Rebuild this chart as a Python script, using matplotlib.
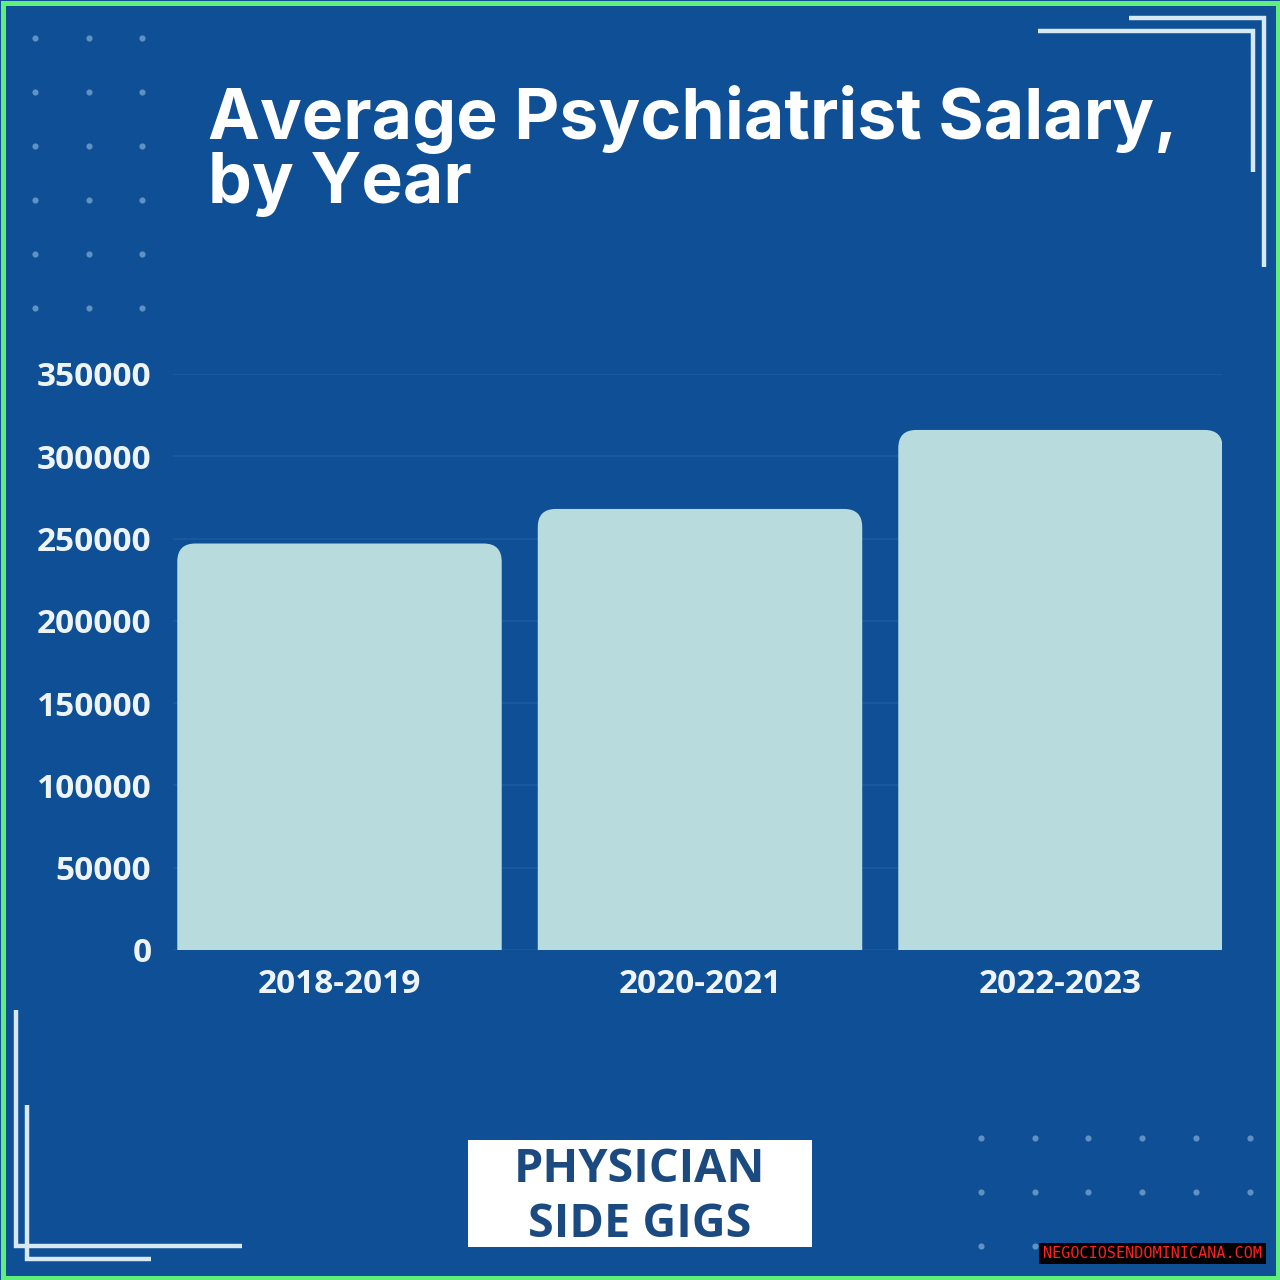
import matplotlib
matplotlib.use('Agg')
import matplotlib.pyplot as plt
from matplotlib.patches import FancyBboxPatch, Rectangle

categories = ['2018-2019', '2020-2021', '2022-2023']
salaries = [247000, 268000, 316000]
y_ticks = [0, 50000, 100000, 150000, 200000, 250000, 300000, 350000]
title_text = 'Average Psychiatrist Salary,\nby Year'
logo_text = 'PHYSICIAN\nSIDE GIGS'
watermark = 'NEGOCIOSENDOMINICANA.COM'
# decorative dot grids (figure pixels)
dots_tl_x = [35, 89, 142]
dots_tl_y = [38, 92, 146, 200, 254, 308]
dots_br_x = [981, 1035, 1088, 1142, 1196, 1250]
dots_br_y = [1138, 1192, 1246]

BG = '#0e4f95'
BAR = '#b8dcdd'
W = 1280
fig = plt.figure(figsize=(12.8, 12.8), dpi=100, facecolor=BG)
page = fig.add_axes([0, 0, 1, 1])
page.set_xlim(0, W); page.set_ylim(W, 0); page.axis('off')

page.add_patch(Rectangle((2.5, 2.5), W-5, W-5, fill=False, ec='#5ff07a', lw=3.6, zorder=10))

page.scatter([x for x in dots_tl_x for _ in dots_tl_y], [y for _ in dots_tl_x for y in dots_tl_y],
             s=20, color='#5f92c2', lw=0)
page.scatter([x for x in dots_br_x for _ in dots_br_y], [y for _ in dots_br_x for y in dots_br_y],
             s=20, color='#5f92c2', lw=0)

lc = '#d8e9f6'
for xs, ys in [([1038, 1253, 1253], [31, 31, 172]),
               ([1129, 1264, 1264], [18, 18, 267]),
               ([16, 16, 242], [1010, 1246, 1246]),
               ([27, 27, 151], [1105, 1259, 1259])]:
    page.plot(xs, ys, color=lc, lw=3.2, solid_joinstyle='miter', solid_capstyle='butt')

page.text(208, 151, title_text, color='white', fontsize=50.2, fontweight='bold',
          family='Inter', va='center', ha='left', linespacing=0.96)

page.add_patch(Rectangle((468, 1140), 344, 107, color='white', lw=0))
page.text(640, 1197, logo_text, color='#1a4a80', fontsize=33.7, fontweight='bold',
          family='Open Sans', ha='center', va='center', linespacing=1.2)

page.add_patch(Rectangle((1039, 1243), 227, 21, color='black', lw=0, zorder=11))
page.text(1152, 1253, watermark, color='#ff2020', fontsize=10.9, family='DejaVu Sans Mono',
          ha='center', va='center', zorder=12)

# axes box in figure pixels: 0 at y=950, 350000 at y=374
left, right, top, bottom = 173, 1222, 374, 950
ax = fig.add_axes([left/W, 1-bottom/W, (right-left)/W, (bottom-top)/W], facecolor='none')
ax.set_ylim(0, 350000)
step = 360.5
ax.set_xlim((left-339.5)/step, (right-339.5)/step)
ax.set_yticks(y_ticks)
ax.set_xticks(range(3))
ax.set_xticklabels(categories)
ax.tick_params(length=0, labelcolor='#eef4f6', labelsize=24)
ax.tick_params(axis='y', pad=15.5)
ax.tick_params(axis='x', pad=13)
for t in ax.get_xticklabels() + ax.get_yticklabels():
    t.set_fontfamily('Open Sans'); t.set_fontweight('bold')
for s in ax.spines.values():
    s.set_visible(False)
ax.grid(axis='y', color='#1c5a9f', lw=1.2)
ax.set_axisbelow(True)

# bars with rounded top corners; the lower rounding falls below the axis and is clipped
bars = ax.bar(range(3), salaries, width=0.9, color=BAR, lw=0)
rx, ry = 0.05, 11000
for b in bars:
    x, w, h = b.get_x(), b.get_width(), b.get_height()
    b.set_visible(False)
    p = FancyBboxPatch((x+rx, -30000), w-2*rx, h+30000-ry,
                       boxstyle=f'round,pad={rx},rounding_size={rx}',
                       mutation_aspect=ry/rx, fc=BAR, lw=0)
    ax.add_patch(p)
    p.set_clip_box(ax.bbox)

fig.savefig('out.png', dpi=100, facecolor=BG)
